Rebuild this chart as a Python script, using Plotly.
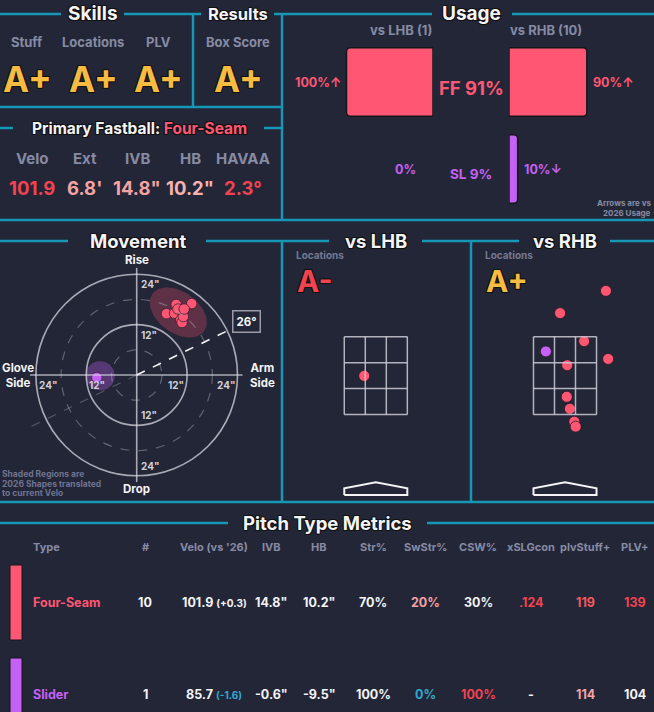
import math
import plotly.graph_objects as go

W, H = 654, 712
BG = '#232637'
LINE = '#1597b5'
RED = '#ff5773'
PURPLE = '#c561f5'
GOLD = '#f5bb42'
GREY = '#868ba3'
WHITE = '#f4f4f6'
PINK = '#f5a3a3'
HOT = '#f2434f'
BLUE = '#2fa9d2'
FONT = 'Inter, Lato, sans-serif'
SHADOW = '-1px -1px 0 #111, 1px -1px 0 #111, -1px 1px 0 #111, 1px 1px 0 #111'

# ---- skills / results
skill_names = ['Stuff', 'Locations', 'PLV']
skill_grades = ['A+', 'A+', 'A+']
result_names = ['Box Score']
result_grades = ['A+']

# ---- primary fastball
fb_name = 'Four-Seam'
fb_labels = ['Velo', 'Ext', 'IVB', 'HB', 'HAVAA']
fb_values = ['101.9', "6.8'", '14.8"', '10.2"', '2.3°']
fb_colors = [HOT, PINK, PINK, '#f7b2b2', HOT]

# ---- usage
usage_types = ['FF', 'SL']
usage_colors = [RED, PURPLE]
usage_total = [91, 9]
usage_lhb = [100, 0]
usage_rhb = [90, 10]
arrow_lhb = ['↑', '']
arrow_rhb = ['↑', '↓']
n_lhb, n_rhb = 1, 10

# ---- movement (inches)
ff_hb = [9.4, 13.1, 7.1, 10.8, 9.0, 10.5, 10.8, 11.1, 9.8, 11.3]
ff_ivb = [16.8, 17.0, 14.6, 15.2, 14.7, 13.1, 12.5, 13.9, 15.7, 15.7]
sl_hb = [-9.5]
sl_ivb = [-0.6]
arm_angle = 26
# 2026 shapes: center x, center y, semi-major, semi-minor, tilt (deg)
ff_shape = [9.9, 14.9, 7.6, 4.9, -36]
sl_shape = [-8.7, -0.2, 3.5, 3.5, 0]

# ---- locations (feet)
lhb_x = [-0.26]
lhb_z = [2.42]
lhb_type = ['FF']
rhb_x = [0.92, -0.11, 0.43, -0.43, 0.97, 0.05, 0.04, 0.11, 0.21, 0.24]
rhb_z = [4.33, 3.83, 3.20, 2.97, 2.80, 2.66, 1.95, 1.68, 1.39, 1.28]
rhb_type = ['FF', 'FF', 'FF', 'SL', 'FF', 'FF', 'FF', 'FF', 'FF', 'FF']
loc_grade_lhb = 'A-'
loc_grade_rhb = 'A+'
sz_bot, sz_top, plate_half = 1.55, 3.3, 17 / 24

# ---- pitch type metrics
table_cols = ['Type', '#', "Velo (vs '26)", 'IVB', 'HB', 'Str%', 'SwStr%', 'CSW%',
              'xSLGcon', 'plvStuff+', 'PLV+']
table_names = ['Four-Seam', 'Slider']
table_counts = ['10', '1']
table_velo = ['101.9', '85.7']
table_velo_diff = ['(+0.3)', '(-1.6)']
table_ivb = ['14.8"', '-0.6"']
table_hb = ['10.2"', '-9.5"']
table_str = ['70%', '100%']
table_swstr = ['20%', '0%']
table_csw = ['30%', '100%']
table_xslg = ['.124', '-']
table_stuff = ['119', '114']
table_plv = ['139', '104']
row_colors = [
    [RED, WHITE, WHITE, WHITE, WHITE, WHITE, PINK, WHITE, HOT, '#f45a5f', HOT],
    [PURPLE, WHITE, WHITE, WHITE, WHITE, WHITE, BLUE, HOT, WHITE, PINK, WHITE],
]
diff_colors = [WHITE, BLUE]


def fx(x):
    return x / W


def fy(y):
    return 1 - y / H


shapes = []
annotations = []


def seg(x0, y0, x1, y1, color=LINE, width=2.5):
    shapes.append(dict(type='line', xref='paper', yref='paper', x0=fx(x0), y0=fy(y0),
                       x1=fx(x1), y1=fy(y1), line=dict(color=color, width=width)))


def txt(x, y, text, size, color=WHITE, xanchor='center', yanchor='middle',
        xref='paper', yref='paper', shadow=None, **kw):
    if xref == 'paper':
        x = fx(x)
    if yref == 'paper':
        y = fy(y)
    annotations.append(dict(x=x, y=y, xref=xref, yref=yref, text=text, showarrow=False,
                            xanchor=xanchor, yanchor=yanchor,
                            font=dict(family=FONT, size=size, color=color,
                                      shadow=shadow or 'none'), **kw))


def title(x, y, text, size=19):
    txt(x, y, '<b>' + text + '</b>', size, WHITE, shadow=SHADOW)


# ---- frame lines
for x0, x1 in [(0, 61), (124, 201), (274, 432), (512, 654)]:
    seg(x0, 14, x1, 14)
seg(193, 14, 193, 107)
seg(282, 14, 282, 220)
seg(0, 107, 282, 107)
for x0, x1 in [(0, 13), (264, 282)]:
    seg(x0, 128, x1, 128)
seg(0, 220, 654, 220)
for x0, x1 in [(0, 68), (206, 329), (422, 519), (610, 654)]:
    seg(x0, 241, x1, 241)
seg(282, 241, 282, 502)
seg(471, 241, 471, 502)
seg(0, 502, 654, 502)
for x0, x1 in [(0, 228), (427, 654)]:
    seg(x0, 523, x1, 523)

# ---- skills / results
title(93, 14, 'Skills', 19)
title(238, 14, 'Results', 16.5)
for name, grade, cx in zip(skill_names + result_names, skill_grades + result_grades,
                           [27, 93, 158, 238]):
    txt(cx, 42, '<b>' + name + '</b>', 13, GREY)
    txt(cx, 79, '<b>' + grade + '</b>', 35, GOLD, shadow=SHADOW)

title(139, 128, 'Primary Fastball: <span style="color:%s">%s</span>' % (RED, fb_name), 15.5)
for lab, val, col, cx in zip(fb_labels, fb_values, fb_colors, [32, 85, 137, 190, 243]):
    txt(cx, 159, '<b>' + lab + '</b>', 15, GREY)
    txt(cx, 188, '<b>' + val + '</b>', 18.5, col)

# ---- usage
title(471, 14, 'Usage', 19)
txt(401, 30, '<b>vs LHB (%d)</b>' % n_lhb, 13, GREY)
txt(546, 30, '<b>vs RHB (%d)</b>' % n_rhb, 13, GREY)
U = 86.5  # px for 100%
fig = go.Figure()
for vals, xa in [(usage_lhb, 'x5'), (usage_rhb, 'x6')]:
    fig.add_trace(go.Bar(orientation='h', y=usage_types, x=[v / 100 for v in vals],
                         xaxis=xa, yaxis='y5', width=0.79, marker_color=usage_colors,
                         marker_line=dict(color='#15161c', width=[1.5 if v > 0 else 0 for v in vals]),
                         marker_cornerradius=4, hoverinfo='skip'))
for i, t in enumerate(usage_types):
    col = usage_colors[i]
    txt(max(usage_lhb[i] / 100, 0.13), i, '<b>%d%%%s</b>' % (usage_lhb[i], arrow_lhb[i]),
        12.5, col, xanchor='right', xref='x5', yref='y5', xshift=-4)
    txt(usage_rhb[i] / 100, i, '<b>%d%%%s</b>' % (usage_rhb[i], arrow_rhb[i]),
        12.5, col, xanchor='left', xref='x6', yref='y5', xshift=4)
    txt(471, i, '<b>%s %d%%</b>' % (t, usage_total[i]), 18.5 if i == 0 else 13.5, col,
        yref='y5', yshift=-6 if i == 0 else -5)
txt(653, 203, '<b>Arrows are vs</b>', 8, GREY, xanchor='right')
txt(653, 212.5, '<b>2026 Usage</b>', 8, GREY, xanchor='right')

# ---- movement
title(138, 241, 'Movement', 18.5)
CIRC = 'rgba(215,215,225,0.75)'
for r in [6, 18]:
    shapes.append(dict(type='circle', xref='x', yref='y', x0=-r, y0=-r, x1=r, y1=r,
                       line=dict(color='rgba(170,170,185,0.45)', width=1.2, dash='dash')))
for r in [12, 24]:
    shapes.append(dict(type='circle', xref='x', yref='y', x0=-r, y0=-r, x1=r, y1=r,
                       line=dict(color=CIRC, width=1.6)))
shapes.append(dict(type='line', xref='x', yref='y', x0=-25.4, y0=0, x1=25.2, y1=0,
                   line=dict(color=CIRC, width=1.6)))
shapes.append(dict(type='line', xref='x', yref='y', x0=0, y0=-25.5, x1=0, y1=25.5,
                   line=dict(color=CIRC, width=1.6)))
a = math.radians(arm_angle)
shapes.append(dict(type='line', xref='x', yref='y', x0=0, y0=0,
                   x1=-29 * math.cos(a), y1=-29 * math.sin(a),
                   line=dict(color='rgba(200,200,215,0.28)', width=1.2, dash='dash')))
shapes.append(dict(type='line', xref='x', yref='y', x0=0, y0=0,
                   x1=25 * math.cos(a), y1=25 * math.sin(a),
                   line=dict(color=WHITE, width=1.6, dash='dash')))
for r in [12, 24]:
    lab = '<b>%d"</b>' % r
    txt(-r, 0, lab, 10, '#d0d0da', xanchor='left', yanchor='top', xref='x', yref='y', xshift=1, yshift=-2)
    txt(r, 0, lab, 10, '#d0d0da', xanchor='right', yanchor='top', xref='x', yref='y', xshift=-1, yshift=-2)
    txt(0, r, lab, 10, '#d0d0da', xanchor='left', yanchor='top', xref='x', yref='y', xshift=2, yshift=-2)
    txt(0, -r, lab, 10, '#d0d0da', xanchor='left', yanchor='bottom', xref='x', yref='y', xshift=2, yshift=2)
txt(29 * math.cos(a), 29 * math.sin(a), '<b>%d°</b>' % arm_angle, 11.5, WHITE, xref='x', yref='y',
    bordercolor='#9a9aa8', borderwidth=1.5, borderpad=3, bgcolor=BG)
txt(0, 27.4, '<b>Rise</b>', 11.5, WHITE, xref='x', yref='y')
txt(0, -27.2, '<b>Drop</b>', 11.5, WHITE, xref='x', yref='y')
txt(0, 375, '<b>Glove<br>Side</b>', 11.5, WHITE, xanchor='left')
txt(248, 375, '<b>Arm<br>Side</b>', 11.5, WHITE, xanchor='left')
for i, line_txt in enumerate(['Shaded Regions are', '2026 Shapes translated', 'to current Velo']):
    txt(0, 474 + i * 9.7, '<b>' + line_txt + '</b>', 8.5, '#6f7390', xanchor='left')


def ellipse(cx, cy, ra, rb, tilt, n=72):
    t = math.radians(tilt)
    xs, ys = [], []
    for k in range(n + 1):
        u = 2 * math.pi * k / n
        ex, ey = ra * math.cos(u), rb * math.sin(u)
        xs.append(cx + ex * math.cos(t) - ey * math.sin(t))
        ys.append(cy + ex * math.sin(t) + ey * math.cos(t))
    return xs, ys


for shp, fc in [(ff_shape, 'rgba(255,80,110,0.27)'), (sl_shape, 'rgba(197,97,245,0.32)')]:
    ex, ey = ellipse(*shp)
    fig.add_trace(go.Scatter(x=ex, y=ey, mode='lines', fill='toself', fillcolor=fc,
                             line=dict(width=0), hoverinfo='skip', xaxis='x', yaxis='y'))
fig.add_trace(go.Scatter(x=ff_hb, y=ff_ivb, mode='markers', xaxis='x', yaxis='y',
                         marker=dict(size=10.5, color=RED, line=dict(color='#3a2030', width=0.8))))
fig.add_trace(go.Scatter(x=sl_hb, y=sl_ivb, mode='markers', xaxis='x', yaxis='y',
                         marker=dict(size=10.5, color=PURPLE, line=dict(color='#3a2030', width=0.8))))

# ---- locations
title(376, 241, 'vs LHB', 18.5)
title(565, 241, 'vs RHB', 18.5)
ZONE = 'rgba(205,205,215,0.85)'
type_color = dict(zip(usage_types, usage_colors))
for ax, grade, gx, xs, zs, ts in [('2', loc_grade_lhb, 294, lhb_x, lhb_z, lhb_type),
                                  ('3', loc_grade_rhb, 483, rhb_x, rhb_z, rhb_type)]:
    xr, yr = 'x' + ax, 'y' + ax
    txt(gx, 255, '<b>Locations</b>', 10, '#737892', xanchor='left')
    txt(gx + 1, 281, '<b>' + grade + '</b>', 30, HOT if grade.startswith('A-') else GOLD,
        xanchor='left', shadow=SHADOW)
    for k in range(4):
        xv = -plate_half + k * 2 * plate_half / 3
        zv = sz_bot + k * (sz_top - sz_bot) / 3
        shapes.append(dict(type='line', xref=xr, yref=yr, x0=xv, x1=xv, y0=sz_bot, y1=sz_top,
                           line=dict(color=ZONE, width=1.5)))
        shapes.append(dict(type='line', xref=xr, yref=yr, x0=-plate_half, x1=plate_half,
                           y0=zv, y1=zv, line=dict(color=ZONE, width=1.5)))
    plate_x = [-plate_half, plate_half, plate_half, 0, -plate_half, -plate_half]
    plate_y = [-0.255, -0.255, -0.105, 0.03, -0.105, -0.255]
    fig.add_trace(go.Scatter(x=plate_x, y=plate_y, mode='lines', xaxis=xr, yaxis=yr,
                             line=dict(color=WHITE, width=2), hoverinfo='skip'))
    fig.add_trace(go.Scatter(x=xs, y=zs, mode='markers', xaxis=xr, yaxis=yr,
                             marker=dict(size=11, color=[type_color[t] for t in ts],
                                         line=dict(color='#2a1a26', width=0.8))))

# ---- pitch type metrics
title(327, 523, 'Pitch Type Metrics', 18.5)
col_x = [31, 145, 214, 271, 319, 373, 425, 478, 531, 585, 635]
for c, cx in zip(table_cols, col_x):
    txt(cx, 547, '<b>' + c + '</b>', 11, GREY, xanchor='left' if c == 'Type' else 'center')
rows = list(zip(table_names, table_counts, table_velo, table_ivb, table_hb, table_str,
                table_swstr, table_csw, table_xslg, table_stuff, table_plv))
for r, (row, ry, (b0, b1)) in enumerate(zip(rows, [602, 694], [(565, 640), (658, 730)])):
    shapes.append(dict(type='rect', xref='paper', yref='paper', x0=fx(10), x1=fx(22),
                       y0=fy(b0), y1=fy(b1), fillcolor=usage_colors[r],
                       line=dict(color='#15161c', width=1)))
    for c, (val, cx) in enumerate(zip(row, col_x)):
        if c == 2:
            val = val + ' <span style="font-size:10px;color:%s">%s</span>' % (
                diff_colors[r], table_velo_diff[r])
        txt(cx, ry, '<b>' + val + '</b>', 12.5, row_colors[r][c],
            xanchor='left' if c == 0 else 'center')

# ---- axes
PPI = 4.2
CX, CY = 136.7, 375
MOV = [0, 282, 250, 500]
ZPF = 44.5
layout_axes = dict(
    xaxis=dict(domain=[fx(MOV[0]), fx(MOV[1])], range=[(MOV[0] - CX) / PPI, (MOV[1] - CX) / PPI]),
    yaxis=dict(domain=[fy(MOV[3]), fy(MOV[2])], range=[(CY - MOV[3]) / PPI, (CY - MOV[2]) / PPI]),
    xaxis2=dict(domain=[fx(284), fx(468)], range=[(284 - 375.8) / ZPF, (468 - 375.8) / ZPF]),
    yaxis2=dict(domain=[fy(500), fy(250)], range=[sz_top - (500 - 336.7) / ZPF, sz_top + (336.7 - 250) / ZPF]),
    xaxis3=dict(domain=[fx(473), fx(654)], range=[(473 - 565) / ZPF, (654 - 565) / ZPF]),
    yaxis3=dict(domain=[fy(500), fy(250)], range=[sz_top - (500 - 336.7) / ZPF, sz_top + (336.7 - 250) / ZPF]),
    xaxis5=dict(domain=[fx(285), fx(433)], range=[148 / U, 0]),
    xaxis6=dict(domain=[fx(509), fx(654)], range=[0, 145 / U]),
    yaxis5=dict(domain=[fy(212.5), fy(38.5)], type='category', range=[1.5, -0.5],
                categoryorder='array', categoryarray=usage_types),
)
for k in layout_axes:
    layout_axes[k].update(visible=False, fixedrange=True)
    if k.startswith('y'):
        layout_axes[k]['anchor'] = 'x' + k[5:]
    else:
        layout_axes[k]['anchor'] = 'y' + (k[5:] if k[5:] in ('', '2', '3') else '5')

fig.update_layout(
    width=W, height=H, margin=dict(l=0, r=0, t=0, b=0),
    paper_bgcolor=BG, plot_bgcolor='rgba(0,0,0,0)',
    showlegend=False, barmode='overlay',
    shapes=shapes, annotations=annotations,
    font=dict(family=FONT, color=WHITE),
    **layout_axes,
)

fig.write_html('out.html', config=dict(displayModeBar=False),
               post_script="document.body.style.margin='0';document.body.style.background='%s';" % BG)
